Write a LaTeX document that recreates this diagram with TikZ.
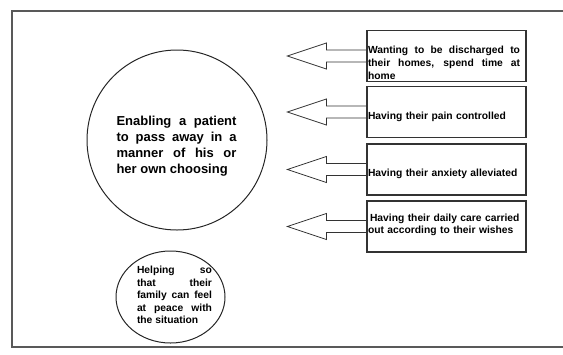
\documentclass[tikz,border=0pt]{standalone}
\usepackage{fontspec}
\setmainfont{Liberation Sans}
\usetikzlibrary{shapes.geometric}
\begin{document}
\begin{tikzpicture}[x=1bp,y=-1bp,
  frameline/.style={draw=black!65, line width=1.2bp},
  goalbox/.style={draw=black!80, line width=1.1bp, minimum width=159bp, minimum height=51bp, inner sep=0pt},
  arrowline/.style={draw=black!80, line width=0.8bp},
  boxtext/.style={font=\fontsize{10.3bp}{13bp}\selectfont\bfseries, text width=152bp, align=justify, inner sep=0pt},
  wishtext/.style={font=\fontsize{10.3bp}{12bp}\selectfont\bfseries, text width=156bp, align=left, inner sep=0pt},
  bigtext/.style={font=\fontsize{13bp}{15.8bp}\selectfont\bfseries, text width=120bp, align=justify, inner sep=0pt},
  smalltext/.style={font=\fontsize{10.3bp}{12.4bp}\selectfont\bfseries, text width=75bp, align=justify, inner sep=0pt}]
  \useasboundingbox (0,0) rectangle (563,354);
  \hyphenpenalty=10000
  % outer frame, open on the right
  \draw[frameline] (566,11) -- (12,11) -- (12,347) -- (566,347);

  % central goal and supporting goal
  \node[draw=black!85, line width=1bp, circle, minimum size=180bp, inner sep=0pt] (goal) at (177,140) {};
  \node[bigtext] (goaltext) at (176.5,146) {Enabling a patient\linebreak to pass away in a\linebreak manner of his or\linebreak her own choosing};
  \node[draw=black!85, line width=1bp, ellipse, minimum width=109bp, minimum height=92bp, inner sep=0pt] (family) at (170.5,297) {};
  \node[smalltext] (familytext) at (174.5,295) {Helping so\linebreak that their\linebreak family can feel\linebreak at peace with\linebreak the situation};

  % wishes of the patient
  \node[goalbox] (b1) at (446.5,56) {};
  \node[goalbox] (b2) at (446.5,112) {};
  \node[goalbox] (b3) at (446.5,169.5) {};
  \node[goalbox] (b4) at (446.5,226.5) {};
  \node[boxtext] (t1) at (444,62.5) {Wanting to be discharged to\linebreak their homes, spend time at\linebreak home};
  \node[wishtext] (t2) at (446,117) {Having their pain controlled};
  \node[wishtext] (t3) at (446,174) {Having their anxiety alleviated};
  \node[wishtext] (t4) at (446,225) {\hspace*{2bp}Having their daily care carried\\out according to their wishes};

  % block arrows pointing from each wish towards the central goal
  \foreach \b in {b1,b2,b3,b4}
    \draw[arrowline] (\b.west) ++(0,-6) -- ++(-40,0) -- ++(0,-7) -- ++(-39,13)
      -- ++(39,13) -- ++(0,-7) -- ++(40,0);
\end{tikzpicture}
\end{document}
